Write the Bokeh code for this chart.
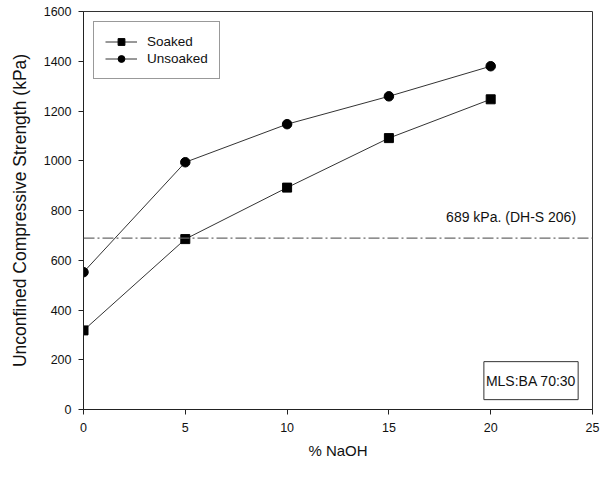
from bokeh.plotting import figure
from bokeh.models import Label, Range1d, FixedTicker, Legend, LegendItem, Span
from bokeh.embed import file_html
from bokeh.resources import INLINE

naoh = [0, 5, 10, 15, 20]
soaked = [318, 685, 892, 1091, 1247]
unsoaked = [552, 994, 1147, 1259, 1380]
standard_kpa = 689
x_ticks = [0, 5, 10, 15, 20, 25]
y_ticks = [0, 200, 400, 600, 800, 1000, 1200, 1400, 1600]

FONT = "Liberation Sans"

p = figure(width=600, height=461, output_backend="svg", toolbar_location=None,
           x_range=Range1d(0, 25), y_range=Range1d(0, 1600),
           min_border_left=83, min_border_right=8, min_border_top=11, min_border_bottom=52)
p.background_fill_color = "white"
p.border_fill_color = "white"
p.outline_line_color = "#333333"
p.outline_line_width = 1
p.grid.visible = False

for ax in (p.xaxis[0], p.yaxis[0]):
    ax.axis_line_color = "#222222"
    ax.major_tick_line_color = "#222222"
    ax.major_tick_in = 0
    ax.major_tick_out = 5
    ax.minor_tick_line_color = None
    ax.major_label_text_font = FONT
    ax.major_label_text_font_size = "12.5px"
    ax.major_label_text_color = "#111111"
    ax.axis_label_text_font = FONT
    ax.axis_label_text_font_style = "normal"
    ax.axis_label_text_color = "#111111"

p.xaxis.ticker = FixedTicker(ticks=x_ticks)
p.yaxis.ticker = FixedTicker(ticks=y_ticks)
p.xaxis.axis_label = "% NaOH"
p.yaxis.axis_label = "Unconfined Compressive Strength (kPa)"
p.xaxis.axis_label_text_font_size = "15px"
p.yaxis.axis_label_text_font_size = "17.5px"
p.xaxis.major_label_standoff = 8
p.xaxis.axis_label_standoff = 7
p.yaxis.major_label_standoff = 7
p.yaxis.axis_label_standoff = 11

span = Span(location=standard_kpa, dimension="width", line_color="#6a6a6a",
            line_width=1.2, line_dash="11 3 2 3")
p.add_layout(span)

l1 = p.line(naoh, soaked, line_color="#333333", line_width=1)
m1 = p.scatter(naoh, soaked, marker="square", size=9, fill_color="black", line_color="black")
l2 = p.line(naoh, unsoaked, line_color="#333333", line_width=1)
m2 = p.scatter(naoh, unsoaked, marker="circle", size=9.5, fill_color="black", line_color="black")

legend = Legend(items=[LegendItem(label="Soaked", renderers=[l1, m1]),
                       LegendItem(label="Unsoaked", renderers=[l2, m2])],
                location="top_left")
legend.margin = 10
legend.padding = 11
legend.spacing = 0
legend.glyph_width = 32
legend.label_standoff = 10
legend.label_text_font = FONT
legend.label_text_font_size = "13.5px"
legend.label_text_color = "#111111"
legend.label_height = 17
legend.glyph_height = 17
legend.border_line_color = "#333333"
legend.border_line_width = 1
legend.background_fill_alpha = 1
p.add_layout(legend)

p.add_layout(Label(x=17.81, y=772, text="689 kPa. (DH-S 206)", text_font=FONT,
                   text_font_size="14px", text_baseline="middle", text_color="#111111"))
p.add_layout(Label(x=21.98, y=116, text="MLS:BA 70:30", text_font=FONT,
                   text_font_size="14px", text_baseline="middle", text_align="center",
                   text_color="#111111", border_line_color="#333333",
                   background_fill_color="white", padding=(2, 11)))

open("out.html", "w").write(file_html(p, INLINE))
